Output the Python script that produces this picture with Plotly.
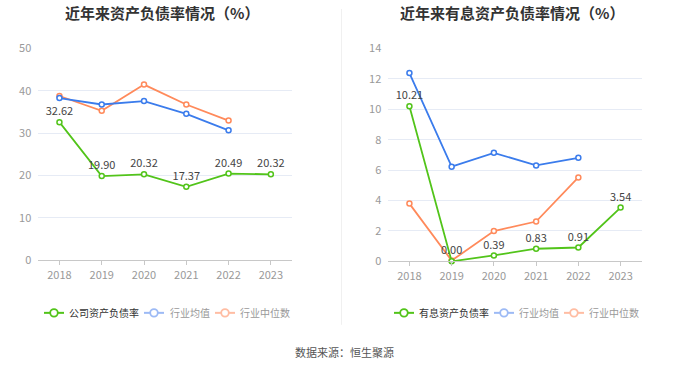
import plotly.graph_objects as go

W, H = 680, 367
years = ["2018", "2019", "2020", "2021", "2022", "2023"]

# Left chart: asset-liability ratio
company_debt = [32.62, 19.90, 20.32, 17.37, 20.49, 20.32]
industry_mean_debt = [38.3, 36.8, 37.6, 34.6, 30.7, None]
industry_median_debt = [38.8, 35.3, 41.5, 36.8, 33.0, None]

# Right chart: interest-bearing asset-liability ratio
company_int = [10.21, 0.00, 0.39, 0.83, 0.91, 3.54]
industry_mean_int = [12.39, 6.23, 7.14, 6.31, 6.81, None]
industry_median_int = [3.80, 0.05, 1.99, 2.62, 5.52, None]

left_title = "近年来资产负债率情况（%）"
right_title = "近年来有息资产负债率情况（%）"
left_legend = ["公司资产负债率", "行业均值", "行业中位数"]
right_legend = ["有息资产负债率", "行业均值", "行业中位数"]
source_text = "数据来源：恒生聚源"

GREEN = "#52c41a"
BLUE = "#3b7cec"
ORANGE = "#ff8a5b"
FONT = "Noto Sans CJK SC"

def px(x):
    return x / W

def vy(y_img):
    # vertical pixel position in the captured picture -> page pixel
    return (y_img - 8) / 0.96

def py(y_img):
    return 1 - vy(y_img) / H

fig = go.Figure()

def add_series(vals, color, xa, ya, labels=False):
    fig.add_trace(go.Scatter(
        x=years, y=vals, xaxis=xa, yaxis=ya,
        mode="lines+markers+text" if labels else "lines+markers",
        line=dict(color=color, width=1.8),
        marker=dict(symbol="circle", size=5, color="white",
                    line=dict(color=color, width=1.5)),
        text=[f"{v:.2f}" for v in vals] if labels else None,
        textposition="top center",
        textfont=dict(family=FONT, size=11, color="#444"),
        showlegend=False, hoverinfo="skip", cliponaxis=False,
        connectgaps=False,
    ))

add_series(industry_median_debt, ORANGE, "x", "y")
add_series(industry_mean_debt, BLUE, "x", "y")
add_series(company_debt, GREEN, "x", "y", labels=True)
add_series(industry_median_int, ORANGE, "x2", "y2")
add_series(industry_mean_int, BLUE, "x2", "y2")
add_series(company_int, GREEN, "x2", "y2", labels=True)

xcommon = dict(type="category", range=[-0.5, 5.5], showgrid=False,
               showline=True, linecolor="#c8c8c8", linewidth=1,
               ticks="outside", ticklen=4, tickcolor="#c8c8c8",
               tickfont=dict(family=FONT, size=11, color="#999"),
               zeroline=False, fixedrange=True)
ycommon = dict(showgrid=True, gridcolor="#e6ebf5", gridwidth=1,
               showline=False, zeroline=False, ticks="",
               tickfont=dict(family=FONT, size=11, color="#999"),
               ticklabelstandoff=6, fixedrange=True)

fig.update_layout(
    width=W, height=H,
    margin=dict(l=0, r=0, t=0, b=0),
    paper_bgcolor="white", plot_bgcolor="white",
    font=dict(family=FONT),
    xaxis=dict(domain=[px(38.3), px(292)], anchor="y", **xcommon),
    yaxis=dict(domain=[py(260.3), py(47.7)], anchor="x", range=[0, 50],
               dtick=10, **ycommon),
    xaxis2=dict(domain=[px(388.3), px(641.7)], anchor="y2", **xcommon),
    yaxis2=dict(domain=[py(261.3), py(47.7)], anchor="x2", range=[0, 14],
                dtick=2, **ycommon),
)

annotations = []
shapes = []

for txt, cx in [(left_title, 162), (right_title, 512)]:
    annotations.append(dict(text=f"<b>{txt}</b>", x=px(cx), y=1 - 3.5 / H,
                            xref="paper", yref="paper", showarrow=False,
                            xanchor="center", yanchor="middle",
                            font=dict(family=FONT, size=15, color="#333")))

shapes.append(dict(type="line", xref="paper", yref="paper",
                   x0=px(341.5), x1=px(341.5), y0=1, y1=py(325),
                   line=dict(color="#f0f0f0", width=1)))

def legend_item(cx, tx, label, color, textcolor):
    ly = 313
    shapes.append(dict(type="line", xref="paper", yref="paper",
                       x0=px(cx - 10), x1=px(cx + 10), y0=py(ly), y1=py(ly),
                       line=dict(color=color, width=2)))
    r = 3.8
    shapes.append(dict(type="circle", xref="paper", yref="paper",
                       x0=px(cx - r), x1=px(cx + r), y0=py(ly + r), y1=py(ly - r),
                       fillcolor="white", line=dict(color=color, width=1.8)))
    annotations.append(dict(text=label, x=px(tx), y=py(ly), xref="paper",
                            yref="paper", showarrow=False, xanchor="left",
                            yanchor="middle",
                            font=dict(family=FONT, size=10, color=textcolor)))

legend_item(54, 67, left_legend[0], GREEN, "#333")
legend_item(154, 168, left_legend[1], "#9dbaf5", "#999")
legend_item(225, 238, left_legend[2], "#ffbda3", "#999")
legend_item(404, 417, right_legend[0], GREEN, "#333")
legend_item(504, 517, right_legend[1], "#9dbaf5", "#999")
legend_item(574, 587, right_legend[2], "#ffbda3", "#999")

annotations.append(dict(text=source_text, x=px(344), y=py(352), xref="paper",
                        yref="paper", showarrow=False, xanchor="center",
                        yanchor="middle",
                        font=dict(family=FONT, size=11, color="#555")))

fig.update_layout(annotations=annotations, shapes=shapes)
fig.write_html(
    "out.html",
    config={"displayModeBar": False, "responsive": False},
    post_script="document.body.style.margin='0';document.body.style.overflow='hidden';",
)
